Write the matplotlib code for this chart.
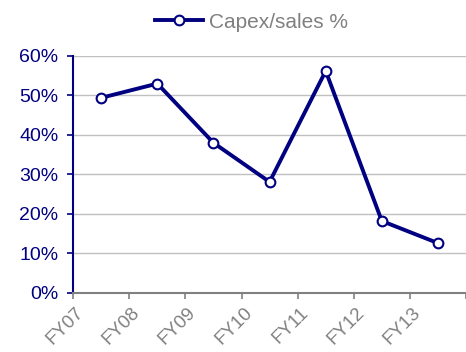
import numpy as np
import matplotlib.pyplot as plt
import matplotlib.transforms as mtransforms
from matplotlib.ticker import FuncFormatter

plt.rcParams['font.family'] = ['Liberation Sans', 'DejaVu Sans']

years = ['FY07', 'FY08', 'FY09', 'FY10', 'FY11', 'FY12', 'FY13']
capex_sales = [49.4, 53.0, 38.0, 28.1, 56.2, 18.2, 12.6]

navy = '#000080'
grey = '#808080'

fig = plt.figure(figsize=(4.66, 3.52), dpi=100)
ax = fig.add_axes([0.157, 0.168, 0.843, 0.673])

x = np.arange(len(years))
ax.plot(x, capex_sales, color=navy, lw=2.8, marker='o', ms=7,
        mfc='white', mec=navy, mew=1.5, label='Capex/sales %', zorder=3)

ax.set_xlim(-0.5, len(years) - 0.5)
ax.set_ylim(0, 60)
ax.set_yticks(np.arange(0, 61, 10))
ax.yaxis.set_major_formatter(FuncFormatter(lambda v, p: '%d%%' % v))
ax.grid(axis='y', color='#c0c0c0', lw=1)
ax.set_axisbelow(True)

# labels sit on the boundary ticks, one per category
ax.set_xticks(x - 0.5)
ax.set_xticks([len(years) - 0.5], minor=True)
ax.set_xticklabels(years, rotation=45, ha='right', va='center',
                   rotation_mode='anchor', color=grey, fontsize=13.5)
ax.tick_params(axis='x', which='both', color=grey, length=4.5, width=1.2)
ax.tick_params(axis='x', which='major', pad=8)
ax.tick_params(axis='y', colors=navy, labelsize=14, length=4.5, width=1.2, pad=6)

shift = mtransforms.ScaledTranslation(0.08, 0, fig.dpi_scale_trans)
for lab in ax.get_xticklabels():
    lab.set_transform(lab.get_transform() + shift)

for s in ['top', 'right']:
    ax.spines[s].set_visible(False)
ax.spines['left'].set_color(navy)
ax.spines['left'].set_linewidth(1.5)
ax.spines['bottom'].set_color(grey)
ax.spines['bottom'].set_linewidth(1.5)

leg = fig.legend(loc='center', bbox_to_anchor=(0.54, 0.937), frameon=False,
                 fontsize=15, handlelength=2.3, handletextpad=0.3)
for t in leg.get_texts():
    t.set_color(grey)

fig.savefig('out.png', dpi=100)
